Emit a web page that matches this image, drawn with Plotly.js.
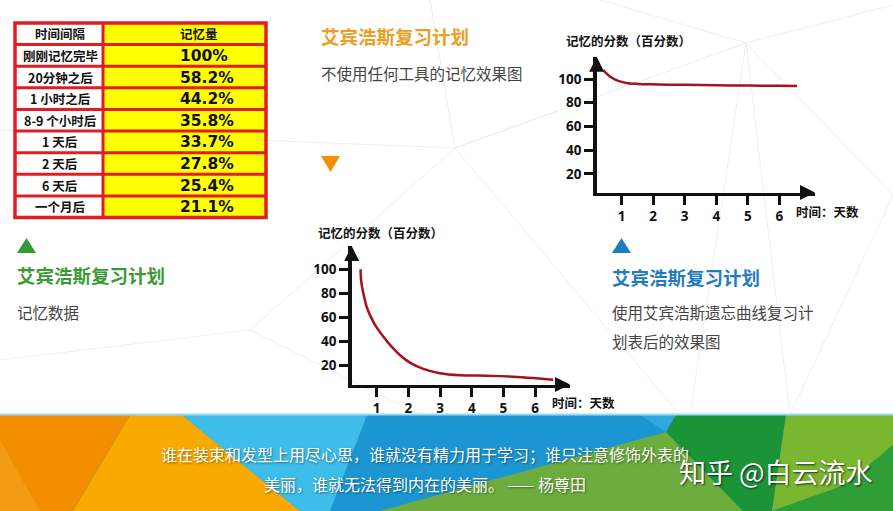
<!DOCTYPE html>
<html>
<head>
<meta charset="utf-8">
<script src="https://cdn.plot.ly/plotly-3.0.1.min.js"></script>
<style>
html,body{margin:0;padding:0;background:#fff;}
#chart{width:893px;height:511px;}
</style>
</head>
<body>
<div id="chart"></div>
<script>
// ---------- data ----------
const tableHeader = ['时间间隔', '记忆量'];
const intervals = ['刚刚记忆完毕', '20分钟之后', '1 小时之后', '8-9 个小时后', '1 天后', '2 天后', '6 天后', '一个月后'];
const retention = [100, 58.2, 44.2, 35.8, 33.7, 27.8, 25.4, 21.1];

// top-right chart: with Ebbinghaus review plan
const reviewDays  = [0.42, 0.5, 0.62, 0.8, 1.0, 1.2, 1.5, 1.9, 3, 4, 5, 6, 6.56];
const reviewScore = [107.5, 105.2, 102.3, 99.5, 97.6, 96.5, 95.9, 95.5, 95.1, 94.8, 94.5, 94.3, 94.1];

// middle chart: without any tool
const noToolDays  = [0.49, 0.50, 0.535, 0.60, 0.68, 0.81, 0.98, 1.21, 1.47, 1.73, 2.05, 2.47, 2.99, 3.63, 4.47, 5.31, 5.94, 6.57];
const noToolScore = [100, 92.5, 85.6, 77.3, 69.0, 60.7, 52.4, 44.1, 35.8, 28.9, 22.5, 17.3, 13.7, 12.0, 11.7, 10.9, 9.8, 8.4];

const dayTicks = [1, 2, 3, 4, 5, 6];
const scoreTicks = [20, 40, 60, 80, 100];

const titleText = '艾宾浩斯复习计划';
const noToolText = '不使用任何工具的记忆效果图';
const dataText = '记忆数据';
const reviewText1 = '使用艾宾浩斯遗忘曲线复习计';
const reviewText2 = '划表后的效果图';
const yAxisTitle = '记忆的分数（百分数）';
const xAxisTitle = '时间：天数';
const quote1 = '谁在装束和发型上用尽心思，谁就没有精力用于学习；谁只注意修饰外表的';
const quote2 = '美丽，谁就无法得到内在的美丽。 —— 杨尊田';
const signature = '知乎 @白云流水';

// ---------- helpers ----------
const W = 893, H = 511;
const X = p => p / W;
const Y = p => 1 - p / H;
const CJK = '"Noto Sans CJK SC", "Noto Sans", sans-serif';
function poly(pts, color, layer) {
  const d = 'M' + pts.map(p => X(p[0]) + ',' + Y(p[1])).join('L') + 'Z';
  return {type: 'path', xref: 'paper', yref: 'paper', path: d, fillcolor: color, line: {width: 0}, layer: layer || 'below'};
}
function rect(x0, y0, x1, y1, fill, lineColor, lw, layer) {
  return {type: 'rect', xref: 'paper', yref: 'paper', x0: X(x0), y0: Y(y1), x1: X(x1), y1: Y(y0),
    fillcolor: fill, line: {color: lineColor || 'rgba(0,0,0,0)', width: lw || 0}, layer: layer || 'above'};
}
function seg(x0, y0, x1, y1, color, w, layer) {
  return {type: 'line', xref: 'paper', yref: 'paper', x0: X(x0), y0: Y(y0), x1: X(x1), y1: Y(y1),
          line: {color: color, width: w}, layer: layer || 'below'};
}
function label(text, x, y, size, color, opts) {
  return Object.assign({xref: 'paper', yref: 'paper', x: X(x), y: Y(y), text: text, showarrow: false,
    xanchor: 'left', yanchor: 'middle', font: {family: CJK, size: size, color: color}}, opts || {});
}

// ---------- table (drawn from the arrays) ----------
const tbl = {x0: 15, xm: 103, x1: 266, y0: 23, y1: 217.5};
const nRows = intervals.length + 1;
const rowH = (tbl.y1 - tbl.y0) / nRows;
const RED = '#E31B23';
const tableShapes = [
  rect(tbl.x0, tbl.y0, tbl.xm, tbl.y1, '#ffffff'),
  rect(tbl.xm, tbl.y0, tbl.x1, tbl.y1, '#FFFF00')
];
for (let i = 1; i < nRows; i++) {
  const yy = tbl.y0 + i * rowH;
  tableShapes.push(seg(tbl.x0, yy, tbl.x1, yy, RED, 3, 'above'));
}
tableShapes.push(seg(tbl.xm, tbl.y0, tbl.xm, tbl.y1, RED, 3, 'above'));
tableShapes.push(rect(tbl.x0, tbl.y0, tbl.x1, tbl.y1, 'rgba(0,0,0,0)', RED, 3.5));

const tableAnn = [];
const rowsLeft = [tableHeader[0]].concat(intervals);
const rowsRight = [tableHeader[1]].concat(retention.map(v => (v === 100 ? '100' : v.toFixed(1)) + '%'));
rowsLeft.forEach((t, i) => {
  const yc = tbl.y0 + (i + 0.5) * rowH;
  tableAnn.push(label('<b>' + t + '</b>', (tbl.x0 + tbl.xm) / 2 + 1, yc, 12.5, '#111',
    {xanchor: 'center', font: {family: CJK, size: 12.5, color: '#111', weight: 900}}));
  const isHead = i === 0;
  tableAnn.push(label('<b>' + rowsRight[i] + '</b>', 178, yc + (isHead ? 0 : 0.5), isHead ? 12.5 : 15.5, '#111',
    {font: {family: isHead ? CJK : '"DejaVu Sans", sans-serif', size: isHead ? 12.5 : 15.5, color: '#111', weight: 900}}));
});

// ---------- traces ----------
const reviewTrace = {
  type: 'scatter', mode: 'lines', x: reviewDays, y: reviewScore, xaxis: 'x', yaxis: 'y',
  line: {color: '#A5121E', width: 2.5, shape: 'spline', smoothing: 0.8}, hoverinfo: 'skip'
};
const noToolTrace = {
  type: 'scatter', mode: 'lines', x: noToolDays, y: noToolScore, xaxis: 'x2', yaxis: 'y2',
  line: {color: '#A5121E', width: 2.5, shape: 'spline', smoothing: 0.6}, hoverinfo: 'skip'
};

const tickFont = {family: '"Open Sans", sans-serif', size: 13.5, color: '#111', weight: 700};
function xAxis(domain, range, anchor) {
  return {domain: domain, range: range, anchor: anchor, showline: true, linewidth: 3.5, linecolor: '#111',
    ticks: 'outside', ticklen: 9, tickwidth: 3, tickcolor: '#111', tickvals: dayTicks,
    showgrid: false, zeroline: false, fixedrange: true, tickfont: tickFont};
}
function yAxis(domain, range, anchor) {
  return {domain: domain, range: range, anchor: anchor, showline: true, linewidth: 3.5, linecolor: '#111',
    ticks: 'outside', ticklen: 9, tickwidth: 3, tickcolor: '#111', tickvals: scoreTicks,
    showgrid: false, zeroline: false, fixedrange: true, tickfont: tickFont};
}

function arrow(xr, yr, x, y, ax, ay) {
  return {xref: xr, yref: yr, x: x, y: y, ax: ax, ay: ay, text: '', showarrow: true,
    arrowhead: 2, arrowsize: 1, arrowwidth: 3, arrowcolor: '#111', standoff: 0};
}

// ---------- decoration ----------
const bgLines = [
  seg(0, 130, 455, 148, '#EDEDED', 1),
  seg(430, 0, 455, 148, '#EDEDED', 1),
  seg(455, 148, 746, 43, '#EDEDED', 1),
  seg(455, 148, 250, 330, '#EDEDED', 1),
  seg(455, 148, 560, 110, '#EDEDED', 1),
  seg(455, 148, 680, 415, '#EFEFEF', 1),
  seg(746, 43, 893, 195, '#EDEDED', 1),
  seg(746, 43, 690, 415, '#EFEFEF', 1),
  seg(746, 43, 790, 415, '#EFEFEF', 1),
  seg(746, 43, 893, 5, '#EDEDED', 1),
  seg(746, 43, 600, 0, '#EDEDED', 1),
  seg(0, 360, 250, 330, '#EFEFEF', 1),
  seg(250, 330, 420, 415, '#EFEFEF', 1),
  seg(893, 195, 790, 415, '#EFEFEF', 1)
];
const banner = [
  poly([[0, 415], [893, 415], [893, 511], [0, 511]], '#1C96D3'),
  poly([[0, 415], [130, 415], [73, 511], [0, 511]], '#F18D00'),
  poly([[0, 440], [40, 511], [0, 511]], '#F39B12'),
  poly([[130, 415], [182, 415], [300, 511], [73, 511]], '#F8AA00'),
  poly([[182, 415], [367, 415], [330, 511], [300, 511]], '#3DBDEA'),
  poly([[640, 415], [676, 415], [666, 432]], '#2FA8E0'),
  poly([[380, 511], [666, 432], [743, 511]], '#6CAD3E'),
  poly([[676, 415], [786, 415], [772, 511], [743, 511], [666, 432]], '#1B9437'),
  poly([[786, 415], [893, 415], [893, 445], [845, 485], [772, 511]], '#78B72F'),
  poly([[845, 485], [893, 445], [893, 511], [772, 511]], '#2F9E36'),
  seg(0, 414.5, 893, 414.5, '#9ED8F2', 2)
];
const triangles = [
  poly([[321, 156], [340, 156], [330.5, 172]], '#F29100', 'above'),
  poly([[17, 253], [36, 253], [26.5, 238]], '#2E9B37', 'above'),
  poly([[612, 253], [631, 253], [621.5, 238]], '#1B7DC0', 'above')
];

// ---------- annotations ----------
const shadow = '1px 1px 2px rgba(0,0,0,0.45)';
const annotations = tableAnn.concat([
  label('<b>' + titleText + '</b>', 319, 36, 18.5, '#EF9C22'),
  label(noToolText, 319, 73, 15.5, '#444'),
  label('<b>' + titleText + '</b>', 15, 275, 18.5, '#3B9A37'),
  label(dataText, 15, 312, 15.5, '#444'),
  label('<b>' + titleText + '</b>', 610, 277, 18.5, '#1F7DBE'),
  label(reviewText1, 610, 312, 15.5, '#444'),
  label(reviewText2, 610, 341, 15.5, '#444'),
  label('<b>' + yAxisTitle + '</b>', 564, 41, 12.5, '#111'),
  label('<b>' + xAxisTitle + '</b>', 794, 211, 12.5, '#111'),
  label('<b>' + yAxisTitle + '</b>', 316, 233, 12.5, '#111'),
  label('<b>' + xAxisTitle + '</b>', 550, 402, 12.5, '#111'),
  label(quote1, 425, 454, 16, '#ffffff', {xanchor: 'center', font: {family: CJK, size: 16, color: '#fff', shadow: shadow}}),
  label(quote2, 425, 484, 16, '#ffffff', {xanchor: 'center', font: {family: CJK, size: 16, color: '#fff', shadow: shadow}}),
  label(signature, 677, 471, 27, '#ffffff', {font: {family: CJK, size: 27, color: '#fff', shadow: '1px 1px 2px rgba(0,0,0,0.7)'}}),
  arrow('x domain', 'y domain', 1, 0, -12, 0),
  arrow('x domain', 'y domain', 0, 1, 0, 12),
  arrow('x2 domain', 'y2 domain', 1, 0, -12, 0),
  arrow('x2 domain', 'y2 domain', 0, 1, 0, 12)
]);

const layout = {
  width: W, height: H,
  margin: {l: 0, r: 0, t: 0, b: 0},
  paper_bgcolor: '#ffffff', plot_bgcolor: 'rgba(0,0,0,0)',
  showlegend: false,
  xaxis: xAxis([X(596.7), X(815)], [0.21, 7.13], 'y'),
  yaxis: yAxis([Y(192.5), Y(56.7)], [4.4, 118.8], 'x'),
  xaxis2: xAxis([X(351.7), X(570)], [0.21, 7.1], 'y2'),
  yaxis2: yAxis([Y(384.5), Y(246)], [4.4, 119.3], 'x2'),
  shapes: bgLines.concat(banner, triangles, tableShapes),
  annotations: annotations
};

Plotly.newPlot('chart', [reviewTrace, noToolTrace], layout, {displayModeBar: false, staticPlot: true});
</script>
</body>
</html>
